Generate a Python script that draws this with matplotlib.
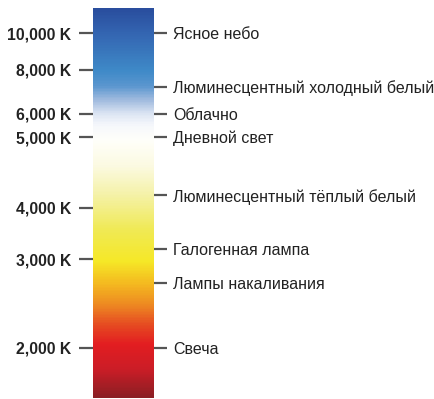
import numpy as np
import matplotlib
matplotlib.use("Agg")
import matplotlib.pyplot as plt
from matplotlib.colors import LinearSegmentedColormap

plt.rcParams['font.family'] = ['Liberation Sans', 'DejaVu Sans']

# temperature ticks on the left
temps = [2000, 3000, 4000, 5000, 6000, 8000, 10000]
temp_labels = ['2,000 K', '3,000 K', '4,000 K', '5,000 K', '6,000 K', '8,000 K', '10,000 K']

# light sources on the right
sources = ['Свеча', 'Лампы накаливания', 'Галогенная лампа',
           'Люминесцентный тёплый белый', 'Дневной свет', 'Облачно',
           'Люминесцентный холодный белый', 'Ясное небо']
source_temps = [2000, 2730, 3200, 4180, 5000, 6000, 7230, 10000]

# the scale of the drawing is not linear: anchor points K -> position
scale_k = [1440, 2000, 3000, 4000, 5000, 6000, 8000, 10000, 11350]
scale_pos = [0, 50, 139, 190, 261, 284, 328, 365, 390]


def fwd(k):
    k = np.asarray(k, dtype=float)
    out = np.interp(k, scale_k, scale_pos)
    lo = k < scale_k[0]
    hi = k > scale_k[-1]
    out = np.where(lo, scale_pos[0] + (k - scale_k[0]) * 0.09, out)
    out = np.where(hi, scale_pos[-1] + (k - scale_k[-1]) * 0.0185, out)
    return out


def inv(p):
    p = np.asarray(p, dtype=float)
    out = np.interp(p, scale_pos, scale_k)
    lo = p < scale_pos[0]
    hi = p > scale_pos[-1]
    out = np.where(lo, scale_k[0] + (p - scale_pos[0]) / 0.09, out)
    out = np.where(hi, scale_k[-1] + (p - scale_pos[-1]) / 0.0185, out)
    return out


# gradient of the bar, bottom (0) to top (1)
grad_stops = [
    (0.000, '#8c1f24'), (0.072, '#cc1d27'), (0.136, '#e31e21'),
    (0.187, '#e64c22'), (0.238, '#ee8a22'), (0.290, '#f4b820'),
    (0.349, '#f6e827'), (0.431, '#f0ea55'), (0.521, '#f5f2a8'),
    (0.597, '#fcfae2'), (0.662, '#fffffa'), (0.700, '#f6f8fc'),
    (0.728, '#dfe7f4'), (0.764, '#a4bde0'), (0.803, '#5a96cf'),
    (0.841, '#3f8ac8'), (0.936, '#3466b2'), (1.000, '#2a4e9e'),
]
cmap = LinearSegmentedColormap.from_list('cct', grad_stops)

fig = plt.figure(figsize=(4.34, 3.99), dpi=100)
ax = fig.add_axes([93 / 434, 1 / 399, 61 / 434, 390 / 399])
ax.set_yscale('function', functions=(fwd, inv))
ax.set_ylim(scale_k[0], scale_k[-1])
ax.set_xlim(0, 1)

grad = np.linspace(0, 1, 400).reshape(-1, 1)
ax.imshow(grad, cmap=cmap, origin='lower', aspect='auto',
          extent=[0, 1, 0, 1], transform=ax.transAxes, zorder=0)

for s in ax.spines.values():
    s.set_visible(False)
ax.set_xticks([])
ax.set_yticks(temps)
ax.set_yticklabels(temp_labels)
ax.yaxis.set_minor_locator(matplotlib.ticker.NullLocator())
ax.tick_params(axis='y', which='major', direction='out', length=10, width=1.6,
               color='#555555', pad=5.5, labelsize=11.3, labelcolor='#222222')
for t in ax.get_yticklabels():
    t.set_fontweight('bold')

twin = ax.twinx()
twin.set_yscale('function', functions=(fwd, inv))
twin.set_ylim(scale_k[0], scale_k[-1])
for s in twin.spines.values():
    s.set_visible(False)
twin.set_yticks(source_temps)
twin.set_yticklabels(sources)
twin.yaxis.set_minor_locator(matplotlib.ticker.NullLocator())
twin.tick_params(axis='y', which='major', direction='out', length=9.4, width=1.6,
                 color='#555555', pad=4.3, labelsize=11.5, labelcolor='#222222')

fig.savefig('out.png', dpi=100)
